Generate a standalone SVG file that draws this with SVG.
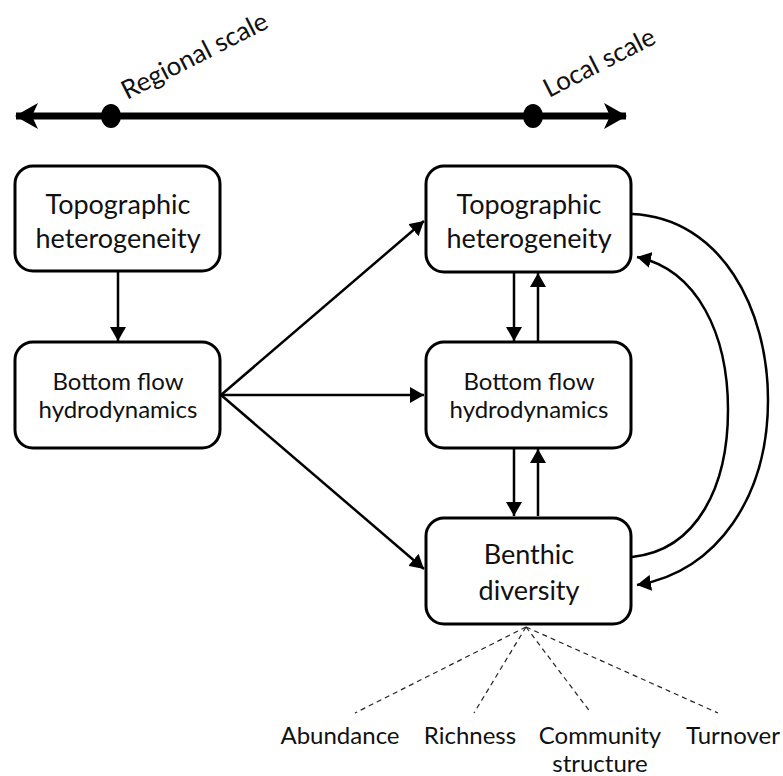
<svg xmlns="http://www.w3.org/2000/svg" width="783" height="776" viewBox="0 0 783 776">
<style>
.box{fill:#fff;stroke:#000;stroke-width:3}
.t{font-family:Lato,"Liberation Sans",sans-serif;fill:#111;text-anchor:middle}
.big{font-size:27px}
.mid{font-size:24px}
.lab{font-size:24px}
.scale{font-family:Lato,"Liberation Sans",sans-serif;fill:#111;font-size:26px}
.c{fill:none;stroke:#000;stroke-width:2.5}
.d{fill:none;stroke:#222;stroke-width:1.2;stroke-dasharray:5 4}
</style>
<defs>
<marker id="ah" viewBox="0 0 14 16" refX="14" refY="8" markerWidth="14" markerHeight="16" markerUnits="userSpaceOnUse" orient="auto-start-reverse">
<path d="M0,0 L14,8 L0,16 Z" fill="#000"/>
</marker>
<marker id="big" viewBox="0 0 24 26" refX="22" refY="13" markerWidth="24" markerHeight="26" markerUnits="userSpaceOnUse" orient="auto-start-reverse">
<path d="M0,0 L23,13 L0,26 L6,13 Z" fill="#000"/>
</marker>
</defs>
<g id="scale-axis">
<line x1="16" y1="116" x2="626" y2="116" stroke="#000" stroke-width="7" marker-start="url(#big)" marker-end="url(#big)"/>
<ellipse cx="111" cy="116" rx="10" ry="12" fill="#000"/>
<ellipse cx="533" cy="116" rx="10" ry="12" fill="#000"/>
<text class="scale" transform="translate(127,100) rotate(-27)">Regional scale</text>
<text class="scale" transform="translate(549,98) rotate(-27)">Local scale</text>
</g>
<g id="connectors">
<line class="c" x1="118" y1="271" x2="118" y2="341" marker-end="url(#ah)"/>
<line class="c" x1="514" y1="273" x2="514" y2="341" marker-end="url(#ah)"/>
<line class="c" x1="538" y1="341" x2="538" y2="273" marker-end="url(#ah)"/>
<line class="c" x1="514" y1="449" x2="514" y2="516" marker-end="url(#ah)"/>
<line class="c" x1="538" y1="516" x2="538" y2="449" marker-end="url(#ah)"/>
<line class="c" x1="221" y1="395" x2="424" y2="221" marker-end="url(#ah)"/>
<line class="c" x1="221" y1="395" x2="424" y2="395" marker-end="url(#ah)"/>
<line class="c" x1="221" y1="395" x2="424" y2="569" marker-end="url(#ah)"/>
<path class="c" d="M632,214 C722,218 768,310 768,400 C768,495 718,572 637,585" marker-end="url(#ah)"/>
<path class="c" d="M632,557 C698,550 728,485 728,410 C728,335 698,270 637,257" marker-end="url(#ah)"/>
<line class="d" x1="526" y1="627" x2="355" y2="713"/>
<line class="d" x1="526" y1="627" x2="474" y2="713"/>
<line class="d" x1="526" y1="627" x2="591" y2="713"/>
<line class="d" x1="526" y1="627" x2="718" y2="713"/>
</g>
<g id="regional-topo">
<rect class="box" x="15" y="166" width="205" height="105" rx="18"/>
<text class="t big" x="118" y="214">Topographic</text>
<text class="t big" x="118" y="248">heterogeneity</text>
</g>
<g id="regional-flow">
<rect class="box" x="15" y="342" width="205" height="106" rx="18"/>
<text class="t mid" x="118" y="390">Bottom flow</text>
<text class="t mid" x="118" y="418">hydrodynamics</text>
</g>
<g id="local-topo">
<rect class="box" x="426" y="166" width="205" height="106" rx="18"/>
<text class="t big" x="529" y="214">Topographic</text>
<text class="t big" x="529" y="248">heterogeneity</text>
</g>
<g id="local-flow">
<rect class="box" x="426" y="342" width="205" height="106" rx="18"/>
<text class="t mid" x="529" y="390">Bottom flow</text>
<text class="t mid" x="529" y="418">hydrodynamics</text>
</g>
<g id="benthic">
<rect class="box" x="426" y="518" width="205" height="106" rx="18"/>
<text class="t big" x="529" y="564">Benthic</text>
<text class="t big" x="529" y="600">diversity</text>
</g>
<g id="metrics">
<text class="t lab" x="340" y="744">Abundance</text>
<text class="t lab" x="470" y="744">Richness</text>
<text class="t lab" x="600" y="744">Community</text>
<text class="t lab" x="600" y="772">structure</text>
<text class="t lab" x="733" y="744">Turnover</text>
</g>
</svg>
